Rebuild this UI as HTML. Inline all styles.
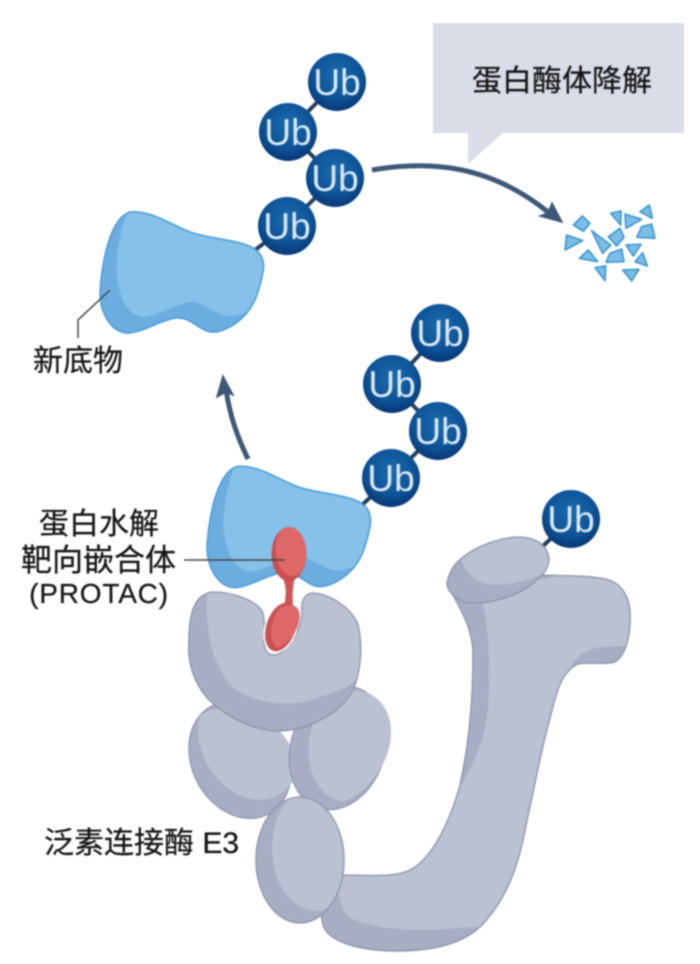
<!DOCTYPE html>
<html><head><meta charset="utf-8"><style>
html,body{margin:0;padding:0;background:#fff;width:700px;height:964px;overflow:hidden}
svg{display:block;filter:blur(.75px)}
text{font-family:"Liberation Sans","Noto Sans CJK SC",sans-serif;fill:#151515;stroke:#151515;stroke-width:.25px}
.ub{font-size:37px;fill:#dbe9f5;stroke:none;text-anchor:middle}
.l{font-size:30px;text-anchor:middle}
</style></head><body>
<svg width="700" height="964" viewBox="0 0 700 964" xmlns="http://www.w3.org/2000/svg">
<defs>
<radialGradient id="ubg" cx="50%" cy="38%" r="60%"><stop offset="0" stop-color="#1a6cae"/><stop offset=".7" stop-color="#0d5296"/><stop offset="1" stop-color="#083a78"/></radialGradient>
<g id="ubb"><circle r="29" fill="url(#ubg)"/><text class="ub" y="13">Ub</text></g>
<path id="subp" d="M130,212 C150,210 170,224 190,232 C210,239 240,240 253,248 C262,253 265,262 263,272 C259,292 254,307 243,317 C233,327 217,335 207,331 C196,327 190,317 176,318 C160,320 140,334 126,333 C110,331 100,312 100,292 C102,262 110,218 130,212 Z"/>
<clipPath id="subc"><use href="#subp"/></clipPath>
<path id="lobe" d="M213,592 C232,592 255,600 262,611 C266,620 263,634 264,645 C266,654 272,657 279,654 C290,647 300,632 302,615 C301,604 302,594 313,593 C330,594 352,608 358,625 C363,645 361,672 353,690 C340,715 305,731 277,731 C245,729 222,712 208,699 C193,682 187,660 189,640 C189,612 195,594 213,592 Z"/>
<clipPath id="lobec"><use href="#lobe"/></clipPath>
<path id="jb" d="M453,595 C462,612 473,630 473,655 C473,690 471,735 460,785 C448,828 430,860 410,870 C395,878 365,875 343,875 L330,890 C322,902 320,915 323,925 C328,942 360,951 397,951 C430,951 462,945 482,925 C505,900 518,870 526,825 C535,785 541,750 549,722 C556,695 560,672 578,664 C590,662 605,665 615,662 C626,655 631,635 630,612 C629,595 620,582 605,579 C585,575 560,576 538,575 Z"/>
<clipPath id="jc"><use href="#jb"/></clipPath>
<path id="cap" d="M447,583 C449,572 455,563 462,558 C475,547 498,538 517,537 C532,537 546,542 549,558 C549,566 545,573 540,577 C532,585 522,591 513,595 C500,600 485,603 473,603 C465,603 458,600 453,595 C449,591 447,588 447,583 Z"/>
<clipPath id="capc"><use href="#cap"/></clipPath>
<clipPath id="e1"><ellipse cx="240" cy="760" rx="48" ry="61" transform="rotate(-28 240 760)"/></clipPath>
<clipPath id="e2"><ellipse cx="338" cy="748" rx="47" ry="63" transform="rotate(18 338 748)"/></clipPath>
<clipPath id="e3"><ellipse cx="300" cy="860" rx="44" ry="63"/></clipPath>
<clipPath id="r2"><ellipse cx="281" cy="627" rx="14.5" ry="25" transform="rotate(18 281 627)"/></clipPath>
<clipPath id="r1"><ellipse cx="289" cy="554" rx="17.5" ry="27"/></clipPath>
<g id="substrate">
<use href="#subp" fill="#6cade0"/>
<path clip-path="url(#subc)" d="M130,205 C120,230 115,255 117,278 C120,300 128,315 143,317 C160,316 178,302 193,302 C207,304 215,315 230,316 C240,316 250,312 270,300 L290,200 Z" fill="#85c1e8"/>
<use href="#subp" fill="none" stroke="#4a9cd8" stroke-width="1.6"/>
</g>
</defs>
<rect width="700" height="964" fill="#fff"/>

<!-- speech bubble -->
<path d="M433,23 H684 V133 H503 L468,164 V133 H433 Z" fill="#d9dde8"/>
<text x="562" y="91" font-size="30" text-anchor="middle" style="font-size:30px">蛋白酶体降解</text>

<!-- linkers -->
<g stroke="#27405f" stroke-width="4" fill="none">
<path d="M255,250 L287,226 L335,178 L288,132 L337,82"/>
<path d="M362,505 L391,478 L438,431 L392,384 L440,333"/>
<path d="M541,548 L571,519"/>
</g>

<!-- Ub chains -->
<use href="#ubb" x="337" y="82"/><use href="#ubb" x="288" y="132"/><use href="#ubb" x="335" y="178"/><use href="#ubb" x="287" y="226"/>
<use href="#ubb" x="440" y="333"/><use href="#ubb" x="392" y="384"/><use href="#ubb" x="438" y="431"/><use href="#ubb" x="391" y="478"/>
<use href="#ubb" x="571" y="519"/>

<!-- substrates -->
<use href="#substrate"/>
<use href="#substrate" transform="translate(107,254.5)"/>

<!-- arrows -->
<g fill="none" stroke="#3e5878" stroke-width="5">
<path d="M372,170 C430,160 490,165 548,212"/>
<path d="M248,459 C236,434 230,415 226,390"/>
</g>
<path d="M562,222 L540,216 L548,213 L552,203 Z" fill="#3e5878" stroke="#3e5878" stroke-width="1.5"/>
<path d="M223,376 L217,397 L226,392 L233,395 Z" fill="#3e5878" stroke="#3e5878" stroke-width="1.5"/>

<!-- fragments -->
<g transform="translate(420,10) scale(.33333)" fill="#7cbde6" stroke="#3f97d2" stroke-width="5" stroke-linejoin="round">
<polygon points="487,618 510,640 490,664 460,645"/>
<polygon points="440,675 488,692 435,720"/>
<polygon points="515,662 572,705 548,730"/>
<polygon points="478,745 505,720 533,755"/>
<polygon points="525,773 557,768 555,812"/>
<polygon points="558,757 570,730 605,717 612,755"/>
<polygon points="565,680 600,655 612,682 590,708"/>
<polygon points="572,610 603,603 602,645"/>
<polygon points="615,612 665,628 618,655"/>
<polygon points="660,605 688,585 697,625"/>
<polygon points="650,682 665,650 695,642 705,685"/>
<polygon points="618,705 663,703 640,738"/>
<polygon points="645,755 668,728 682,768"/>
<polygon points="608,780 657,778 635,813"/>
</g>

<!-- E3 grey -->
<g stroke="#8d97ae" stroke-width="1.3">
<ellipse cx="240" cy="760" rx="48" ry="61" transform="rotate(-28 240 760)" fill="#a7aec3"/>
<ellipse clip-path="url(#e1)" cx="257" cy="748" rx="48" ry="61" transform="rotate(-28 240 760)" fill="#b9c1d3" stroke="none"/>
<ellipse cx="338" cy="748" rx="47" ry="63" transform="rotate(18 338 748)" fill="#a7aec3"/>
<ellipse clip-path="url(#e2)" cx="354" cy="735" rx="47" ry="63" transform="rotate(18 338 748)" fill="#b9c1d3" stroke="none"/>
<use href="#jb" fill="#a7aec3"/>
<path clip-path="url(#jc)" d="M478,590 C490,620 490,660 488,710 C484,745 470,775 450,800 L400,860 L340,860 C336,885 337,905 350,918 C375,930 420,932 455,928 L480,927 L600,800 L570,670 C575,655 590,647 605,647 L640,645 L650,560 Z" fill="#b9c1d3" stroke="none"/>
<use href="#jb" fill="none"/>
<use href="#cap" fill="#a7aec3"/>
<path clip-path="url(#capc)" d="M460,555 C463,570 475,585 495,585 C515,585 535,578 552,570 L560,530 L470,530 Z" fill="#b9c1d3" stroke="none"/>
<use href="#cap" fill="none"/>
<ellipse cx="300" cy="860" rx="44" ry="63" fill="#a7aec3"/>
<ellipse clip-path="url(#e3)" cx="316" cy="848" rx="44" ry="63" fill="#b9c1d3" stroke="none"/>
<ellipse cx="300" cy="860" rx="44" ry="63" fill="none"/>
<use href="#lobe" fill="#a7aec3"/>
<path clip-path="url(#lobec)" d="M208,585 C205,625 208,655 230,685 C250,703 290,710 320,697 C335,692 345,690 356,680 L400,600 L400,560 Z" fill="#b9c1d3" stroke="none"/>
<use href="#lobe" fill="none"/>
</g>

<!-- PROTAC -->
<ellipse cx="281" cy="627" rx="16.5" ry="27" transform="rotate(18 281 627)" fill="#f4f2f2"/>
<path d="M281,574 L296,574 C293,584 292,592 293,606 L284,606 C287,592 286,584 281,574 Z" fill="#cf5556"/>
<ellipse cx="281" cy="627" rx="14.5" ry="25" transform="rotate(18 281 627)" fill="#c94f50"/>
<ellipse clip-path="url(#r2)" cx="286" cy="623" rx="14.5" ry="25" transform="rotate(18 281 627)" fill="#de6868"/>
<ellipse cx="289" cy="554" rx="17.5" ry="27" fill="#c94f50"/>
<ellipse clip-path="url(#r1)" cx="293" cy="549" rx="17.5" ry="27" fill="#de6868"/>

<!-- leaders -->
<g fill="none" stroke="#444" stroke-width="1.5">
<path d="M110,290 L78,320 V338"/>
<path d="M184,560 H285"/>
</g>

<!-- labels -->
<text class="l" x="78" y="371">新底物</text>
<text class="l" x="99" y="534">蛋白水解</text>
<text class="l" x="98.500" y="571" style="font-size:31px">靶向嵌合体</text>
<text class="l" x="99" y="603" style="font-size:28px" letter-spacing=".8">(PROTAC)</text>
<text class="l" x="141.500" y="853">泛素连接酶 E3</text>
</svg>
</body></html>
